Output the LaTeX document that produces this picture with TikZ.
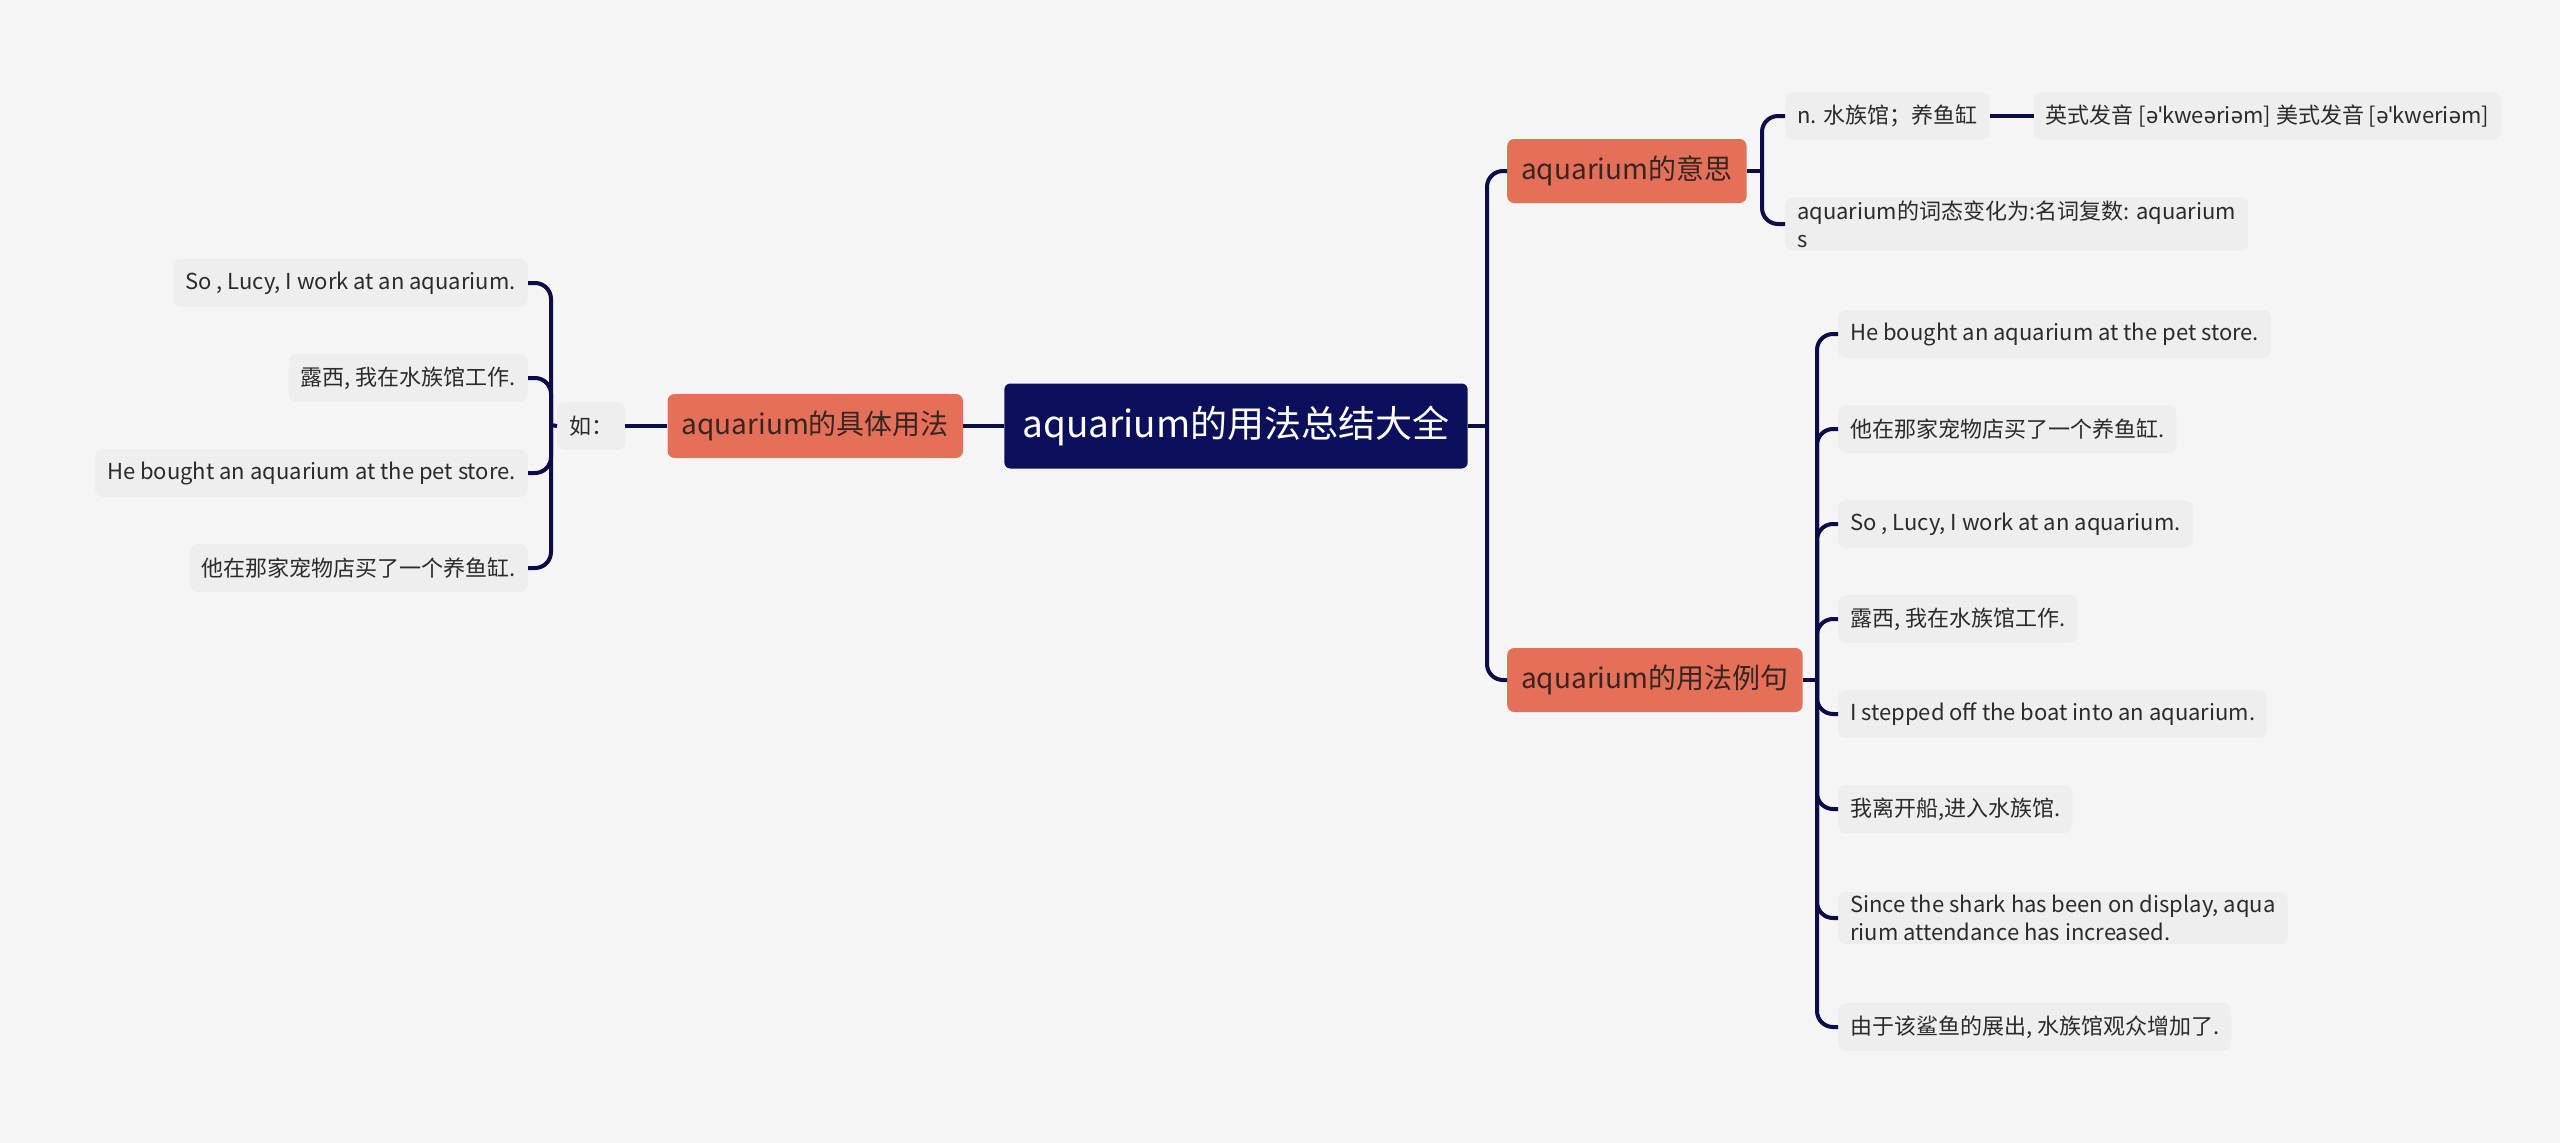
\documentclass[tikz,border=0pt]{standalone}
\usepackage{fontspec}
\setmainfont{Noto Sans CJK SC}
\newfontfamily\ipafont{Noto Sans}
\usetikzlibrary{positioning}

\definecolor{bgcol}{HTML}{F5F5F5}
\definecolor{navy}{HTML}{0C0F5B}
\definecolor{wire}{HTML}{0B0C48}
\definecolor{coral}{HTML}{E4705A}
\definecolor{leafbg}{HTML}{EEEEEE}
\definecolor{inkcol}{HTML}{2B2B2B}
\definecolor{topicink}{HTML}{3A2420}

\begin{document}
\begin{tikzpicture}[
      x=1pt, y=-1pt,
      root/.style={rectangle, rounded corners=6pt, fill=navy, text=white, minimum height=85pt, inner xsep=18pt, font=\fontsize{37}{44}\selectfont},
      topic/.style={rectangle, rounded corners=7pt, fill=coral, text=topicink, minimum height=64pt, inner xsep=14pt, font=\fontsize{28}{34}\selectfont},
      leaf/.style={rectangle, rounded corners=8pt, fill=leafbg, text=inkcol, minimum height=48pt, inner xsep=12pt, align=left, font=\fontsize{22}{28}\selectfont},
      link/.style={draw=wire, line width=4pt, rounded corners=16pt}
  ]
      % Canvas
      \fill[bgcol] (0,0) rectangle (2560,1143);
      \useasboundingbox (0,0) rectangle (2560,1143);

      % Root
      \node[root] (root) at (1236,426) {aquarium的用法总结大全};

      % Left branch
      \node[topic, left=41pt of root] (usage) {aquarium的具体用法};
      \node[leaf, left=42pt of usage] (eg) {如：};
      \node[leaf, anchor=east] (u1) at (528,283) {So , Lucy, I work at an aquarium.};
      \node[leaf, anchor=east] (u2) at (528,378) {露西, 我在水族馆工作.};
      \node[leaf, anchor=east] (u3) at (528,473) {He bought an aquarium at the pet store.};
      \node[leaf, anchor=east] (u4) at (528,568) {他在那家宠物店买了一个养鱼缸.};

      % Right branch: meaning
      \node[topic, anchor=west] (mean) at (1507,171) {aquarium的意思};
      \node[leaf, anchor=west] (m1) at (1785,116) {n. 水族馆；养鱼缸};
      \node[leaf, right=44pt of m1] (pron) {英式发音 [{\ipafont əˈ}kwe{\ipafont ə}ri{\ipafont ə}m] 美式发音 [{\ipafont əˈ}kweri{\ipafont ə}m]};
      \node[leaf, anchor=west] (m2) at (1785,224) {aquarium的词态变化为:名词复数: aquarium\\s};

      % Right branch: examples
      \node[topic, anchor=west] (ex) at (1507,680) {aquarium的用法例句};
      \node[leaf, anchor=west] (e1) at (1838,334) {He bought an aquarium at the pet store.};
      \node[leaf, anchor=west] (e2) at (1838,429) {他在那家宠物店买了一个养鱼缸.};
      \node[leaf, anchor=west] (e3) at (1838,524) {So , Lucy, I work at an aquarium.};
      \node[leaf, anchor=west] (e4) at (1838,619) {露西, 我在水族馆工作.};
      \node[leaf, anchor=west] (e5) at (1838,714) {I stepped off the boat into an aquarium.};
      \node[leaf, anchor=west] (e6) at (1838,809) {我离开船,进入水族馆.};
      \node[leaf, anchor=west] (e7) at (1838,918) {Since the shark has been on display, aqua\\rium attendance has increased.};
      \node[leaf, anchor=west] (e8) at (1838,1027) {由于该鲨鱼的展出, 水族馆观众增加了.};

      % Junctions
      \coordinate (jl) at (551,425);
      \coordinate (jr) at (1487,426);
      \coordinate (jm) at (1762,171);
      \coordinate (je) at (1817,680);

      % Links
      \draw[link] (root.west) -- (usage.east);
      \draw[link] (usage.west) -- (eg.east);
      \draw[link] (eg.west) -- (jl);
      \draw[link] (jl) |- (u1.east);
      \draw[link] (jl) |- (u2.east);
      \draw[link] (jl) |- (u3.east);
      \draw[link] (jl) |- (u4.east);

      \draw[link] (root.east) -- (jr);
      \draw[link] (jr) |- (mean.west);
      \draw[link] (jr) |- (ex.west);

      \draw[link] (mean.east) -- (jm);
      \draw[link] (jm) |- (m1.west);
      \draw[link] (jm) |- (m2.west);
      \draw[link] (m1.east) -- (pron.west);

      \draw[link] (ex.east) -- (je);
      \draw[link] (je) |- (e1.west);
      \draw[link] (je) |- (e2.west);
      \draw[link] (je) |- (e3.west);
      \draw[link] (je) |- (e4.west);
      \draw[link] (je) |- (e5.west);
      \draw[link] (je) |- (e6.west);
      \draw[link] (je) |- (e7.west);
      \draw[link] (je) |- (e8.west);
  \end{tikzpicture}
\end{document}
